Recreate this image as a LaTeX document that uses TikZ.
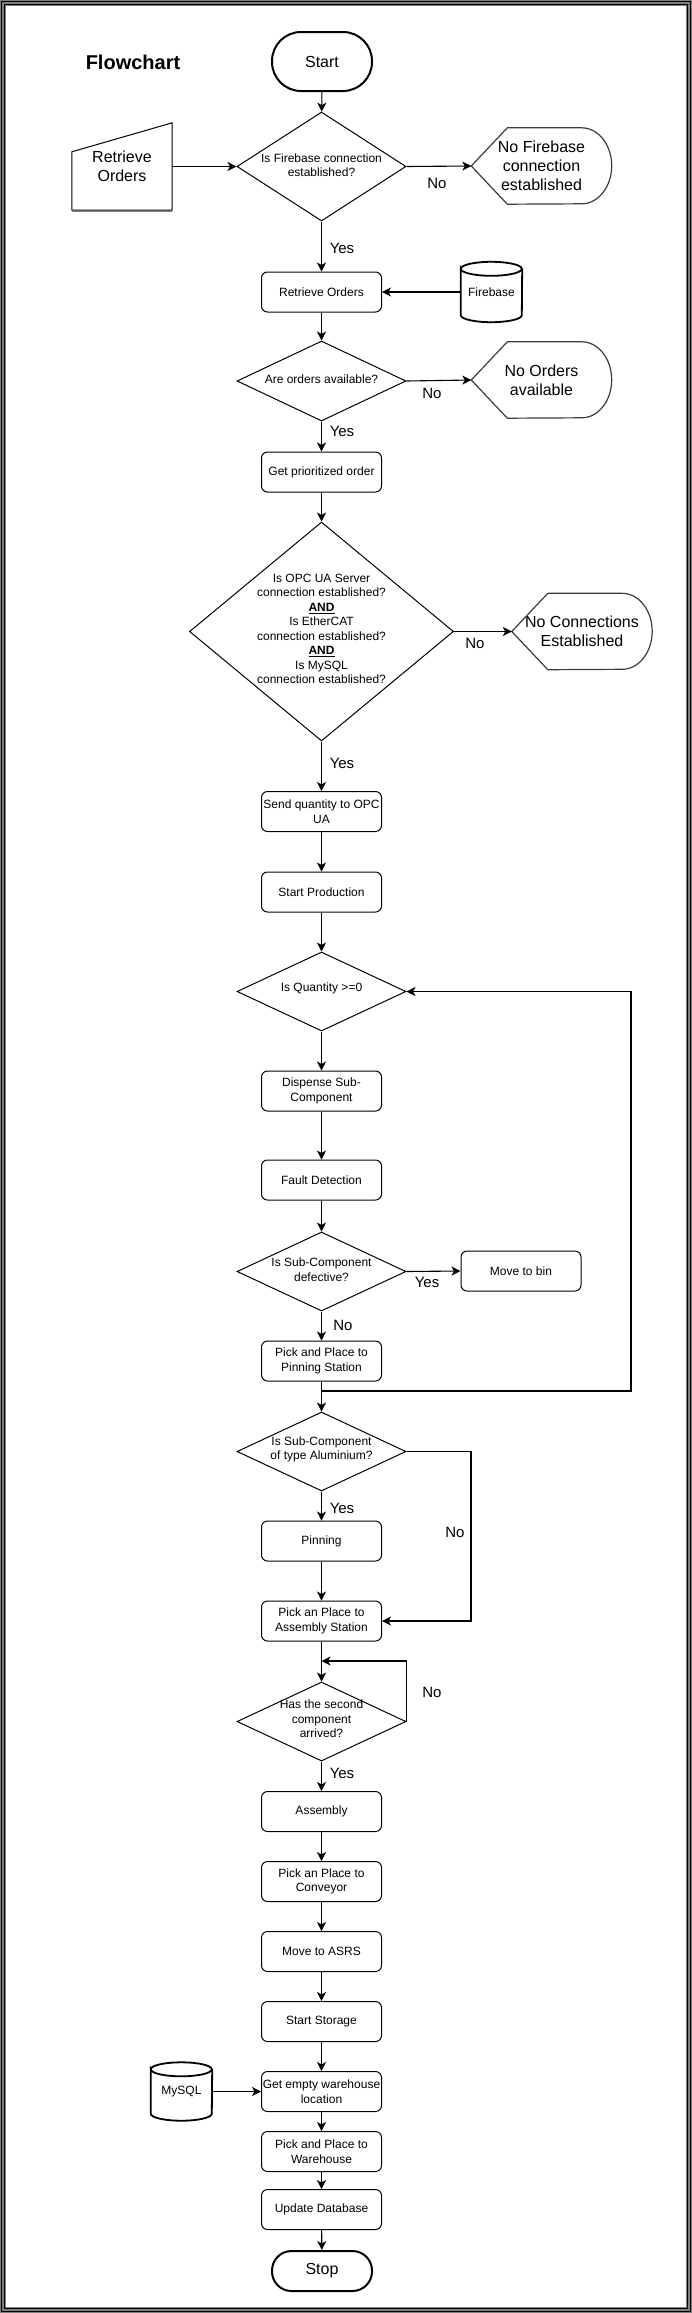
\documentclass[tikz,border=0pt]{standalone}
\usepackage{fontspec}
\setmainfont{Liberation Sans}
\usetikzlibrary{shapes.geometric,arrows.meta,calc}
\definecolor{fgray}{RGB}{128,128,128}
\definecolor{dgray}{RGB}{60,60,60}
\newcommand{\drawcyl}[1]{%
  \draw[line width=1.8pt] ($(#1.north west)+(0pt,-7pt)$) arc[start angle=180,end angle=0,x radius=30.5pt,y radius=7pt]
     arc[start angle=0,end angle=-180,x radius=30.5pt,y radius=7pt]
     -- ($(#1.south west)+(0pt,7pt)$) arc[start angle=180,end angle=360,x radius=30.5pt,y radius=7pt]
     -- ($(#1.north east)+(0pt,-7pt)$);}
\newcommand{\drawdisp}[1]{%
  \draw[dgray,line width=1.2pt] (#1.west) -- ($(#1.north west)+(36pt,0pt)$) -- ($(#1.north east)+(-30pt,0pt)$)
     arc[start angle=90,end angle=-90,x radius=30pt,y radius=38pt]
     -- ($(#1.south west)+(36pt,0pt)$) -- cycle;}
\begin{document}
\begin{tikzpicture}[x=1pt,y=-1pt,
  f12/.style={font=\fontsize{12pt}{14.5pt}\selectfont},
  f16/.style={font=\fontsize{16pt}{19pt}\selectfont},
  box/.style={draw,line width=1pt,rounded corners=6pt,minimum width=120pt,minimum height=40pt,inner sep=1pt,align=center,f12},
  term/.style={draw,line width=2pt,minimum width=100pt,inner sep=0pt,f16},
  dia/.style={draw,diamond,line width=1pt,inner sep=0pt,minimum width=169pt,minimum height=79pt},
  dtext/.style={align=center,f12,inner sep=0pt},
  disp/.style={minimum width=140pt,minimum height=76pt,inner sep=0pt,align=center,f16},
  cyl/.style={minimum width=61pt,minimum height=60pt,inner sep=0pt,f12},
  arr/.style={-{Stealth[length=9pt,width=9pt,inset=2.5pt]},line width=1.1pt},
  lbl/.style={font=\fontsize{15pt}{18pt}\selectfont,inner sep=0pt}]
\useasboundingbox (0,0) rectangle (692,2313);
% frame
\fill[fgray] (0,0) rectangle (692,2313);
\fill[white] (5.8,5.8) rectangle (686.2,2307.2);
\draw[black,line width=1pt] (1.8,1.8) rectangle (690.2,2311.2);
\draw[black,line width=1pt] (4.2,4.2) rectangle (687.8,2308.8);

\node[font=\bfseries\fontsize{20pt}{24pt}\selectfont] (title) at (133,62) {Flowchart};

% nodes
\node[term,minimum height=59pt,rounded corners=29pt] (start) at (322,61.5) {Start};
\node[dia,minimum height=109pt] (d1) at (321.5,166.5) {};
\node[dtext] (d1t) at (321.5,165) {Is Firebase connection\\established?};
\node[minimum width=100pt,minimum height=87pt,inner sep=0pt,align=center,f16] (ri) at (122,166.5) {Retrieve\\Orders};
\draw[line width=1pt] (ri.south west) -- ($(ri.north west)+(0pt,-29pt)$) -- (ri.north east) -- (ri.south east) -- cycle;
\draw[fgray,line width=1pt] ($(ri.south west)+(0pt,-1pt)$) -- ($(ri.south east)+(0pt,-1pt)$);
\node[disp] (nofb) at (541.5,166) {No Firebase\\connection\\established};
\drawdisp{nofb}

\node[box] (ro) at (321.5,292) {Retrieve Orders};
\node[cyl] (fb) at (491.5,292) {Firebase};
\drawcyl{fb}

\node[dia,minimum height=80pt] (d2) at (321.5,381) {};
\node[dtext] (d2t) at (321.5,379) {Are orders available?};
\node[disp] (noord) at (541.5,380) {No Orders\\available};
\drawdisp{noord}

\node[box] (gpo) at (321.5,472) {Get prioritized order};

\node[dia,minimum width=264pt,minimum height=219pt] (d3) at (321.5,631.5) {};
\node[dtext] (d3t) at (321.5,629) {Is OPC UA Server\\connection established?\\\underline{\textbf{AND}}\\Is EtherCAT\\connection established?\\\underline{\textbf{AND}}\\Is MySQL\\connection established?};
\node[disp] (nocon) at (582,631.5) {No Connections\\Established};
\drawdisp{nocon}

\node[box] (sq) at (321.5,811.5) {Send quantity to OPC\\UA};
\node[box] (sp) at (321.5,892) {Start Production};
\node[dia] (dq) at (321.5,991.5) {};
\node[dtext] (dqt) at (321.5,988) {Is Quantity >=0};
\node[box] (disp1) at (321.5,1091) {Dispense Sub-\\Component};
\node[box] (fd) at (321.5,1180) {Fault Detection};
\node[dia] (ddef) at (321.5,1271.5) {};
\node[dtext] (ddeft) at (321.5,1269.5) {Is Sub-Component\\defective?};
\node[box] (bin) at (521,1271) {Move to bin};
\node[box] (ppp) at (321.5,1361) {Pick and Place to\\Pinning Station};
\node[dia] (dal) at (321.5,1451.5) {};
\node[dtext] (dalt) at (321.5,1449.5) {Is Sub-Component\\of type Aluminium?};
\node[box] (pin) at (321.5,1541) {Pinning};
\node[box] (ppa) at (321.5,1621) {Pick an Place to\\Assembly Station};
\node[dia] (darr) at (321.5,1721.5) {};
\node[dtext] (darrt) at (321.5,1719) {Has the second\\component\\arrived?};
\node[box] (asm) at (321.5,1811.5) {Assembly};
\node[box] (ppc) at (321.5,1881.5) {Pick an Place to\\Conveyor};
\node[box] (asrs) at (321.5,1951.5) {Move to ASRS};
\node[box] (stor) at (321.5,2021.5) {Start Storage};
\node[box] (gew) at (321.5,2091.5) {Get empty warehouse\\location};
\node[cyl,minimum height=58pt] (my) at (181.5,2091.5) {MySQL};
\drawcyl{my}
\node[box] (ppw) at (321.5,2151.5) {Pick and Place to\\Warehouse};
\node[box] (upd) at (321.5,2209.5) {Update Database};
\node[term,minimum height=40pt,rounded corners=19.5pt] (stop) at (322,2271) {Stop};

% connectors
\draw[arr] (start) -- (d1);
\draw[arr] (ri.east) -- (d1.west);
\draw[arr] (d1.east) -- (nofb.west);
\draw[arr] (d1) -- (ro);
\draw[arr] (fb.west) -- (ro.east);
\draw[arr] (ro) -- (d2);
\draw[arr] (d2.east) -- (noord.west);
\draw[arr] (d2) -- (gpo);
\draw[arr] (gpo) -- (d3);
\draw[arr] (d3.east) -- (nocon.west);
\draw[arr] (d3) -- (sq);
\draw[arr] (sq) -- (sp);
\draw[arr] (sp) -- (dq);
\draw[arr] (dq) -- (disp1);
\draw[arr] (disp1) -- (fd);
\draw[arr] (fd) -- (ddef);
\draw[arr] (ddef.east) -- (bin.west);
\draw[arr] (ddef) -- (ppp);
\draw[arr] (ppp) -- (dal);
\coordinate (lj) at (321.5,1391);
\coordinate (lc) at (631,1391);
\draw[arr] (lj) -- (lc) |- (dq.east);
\draw[arr] (dal) -- (pin);
\draw[arr] (pin) -- (ppa);
\coordinate (alx) at (471,1536);
\draw[arr] (dal.east) -| (alx) |- (ppa.east);
\draw[arr] (ppa) -- (darr);
\coordinate (aj) at (321.5,1661);
\draw[arr] (darr.east) |- (aj);
\draw[arr] (darr) -- (asm);
\draw[arr] (asm) -- (ppc);
\draw[arr] (ppc) -- (asrs);
\draw[arr] (asrs) -- (stor);
\draw[arr] (stor) -- (gew);
\draw[arr] (my.east) -- (gew.west);
\draw[arr] (gew) -- (ppw);
\draw[arr] (ppw) -- (upd);
\draw[arr] (upd) -- (stop);

% labels
\node[lbl] at (437,183) {No};
\node[lbl] at (342,248) {Yes};
\node[lbl] at (432,393) {No};
\node[lbl] at (342,431) {Yes};
\node[lbl] at (475,643) {No};
\node[lbl] at (342,763) {Yes};
\node[lbl] at (427,1282) {Yes};
\node[lbl] at (343,1325) {No};
\node[lbl] at (342,1508) {Yes};
\node[lbl] at (455,1532) {No};
\node[lbl] at (432,1692) {No};
\node[lbl] at (342,1773) {Yes};
\end{tikzpicture}
\end{document}
